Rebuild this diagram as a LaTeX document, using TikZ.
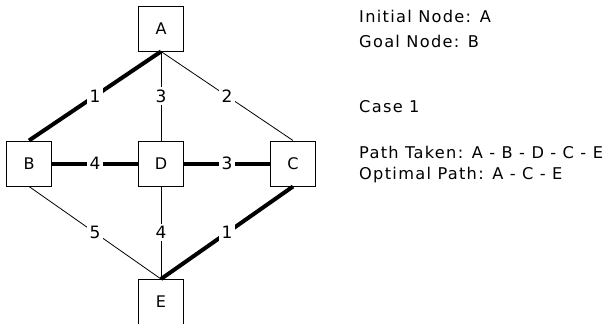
\documentclass[tikz,border=0pt]{standalone}
\usepackage{fontspec}
\setmainfont{DejaVu Sans}
\usetikzlibrary{positioning}
\tikzset{
  statebox/.style={draw,line width=1pt,minimum width=45pt,minimum height=45pt,
    inner sep=0pt,font=\fontsize{16}{18}\selectfont},
  plainedge/.style={draw,line width=0.8pt},
  takenedge/.style={draw,line width=4pt},
  costlabel/.style={fill=white,inner sep=2.5pt,font=\fontsize{17}{18}\selectfont},
  infotext/.style={anchor=base west,inner sep=0pt,
    font=\fontsize{16.2}{18}\selectfont\addfontfeatures{LetterSpace=8}},
}
\begin{document}
\begin{tikzpicture}[x=1pt,y=-1pt]
        \useasboundingbox (0,0) rectangle (608,324);
        \node[statebox] (A) at (161,28.5) {A};
        \node[statebox] (B) at (29,163.5) {B};
        \node[statebox] (D) at (161,163.5) {D};
        \node[statebox] (C) at (293,163.5) {C};
        \node[statebox] (E) at (161,302) {E};
        \draw[takenedge] (A.south) -- node[costlabel] {1} (B.north);
        \draw[plainedge] (A.south) -- node[costlabel] {3} (D.north);
        \draw[plainedge] (A.south) -- node[costlabel] {2} (C.north);
        \draw[takenedge] (B.east) -- node[costlabel] {4} (D.west);
        \draw[takenedge] (D.east) -- node[costlabel] {3} (C.west);
        \draw[plainedge] (B.south) -- node[costlabel] {5} (E.north);
        \draw[plainedge] (D.south) -- node[costlabel] {4} (E.north);
        \draw[takenedge] (C.south) -- node[costlabel] {1} (E.north);
        \node[infotext] (initial) at (359,22) {Initial Node: A};
        \node[infotext] (goal) at (359,47) {Goal Node: B};
        \node[infotext] (case) at (359,112) {Case 1};
        \node[infotext] (taken) at (359,158) {Path Taken: A - B - D - C - E};
        \node[infotext] (optimal) at (359,179) {Optimal Path: A - C - E};
      \end{tikzpicture}
\end{document}
